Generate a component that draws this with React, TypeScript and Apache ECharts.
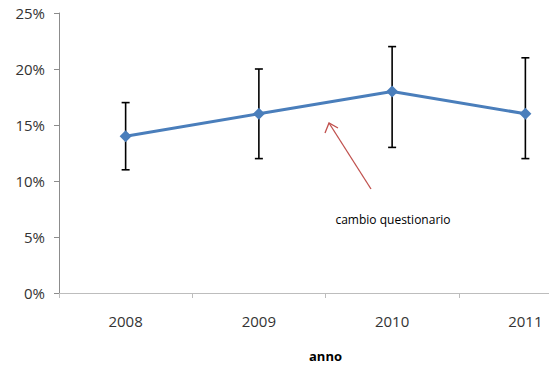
import React, { useEffect, useRef } from "react";
import * as echarts from "echarts";

const years = ["2008", "2009", "2010", "2011"];
const values = [14, 16, 18, 16];
const lowErr = [11, 12, 13, 12];
const highErr = [17, 20, 22, 21];
const yTicks = [0, 5, 10, 15, 20, 25];
const annotationText = "cambio questionario";
const axisTitle = "anno";

export default function App() {
  const ref = useRef<HTMLDivElement>(null);
  useEffect(() => {
    if (!ref.current) return;
    const chart = echarts.init(ref.current, undefined, { renderer: "svg" });
    const font = "'Open Sans', 'Liberation Sans', sans-serif";
    chart.setOption({
      animation: false,
      textStyle: { fontFamily: font },
      grid: { left: 59, top: 13, width: 533, height: 283, containLabel: false },
      xAxis: {
        type: "category",
        data: years,
        boundaryGap: true,
        axisLine: { lineStyle: { color: "#BDBDBD", width: 1 } },
        axisTick: { show: true, length: 5, inside: false, lineStyle: { color: "#BDBDBD" } },
        axisLabel: { color: "#333", fontSize: 15, margin: 20, fontFamily: font },
        name: axisTitle,
        nameLocation: "middle",
        nameGap: 56,
        nameTextStyle: { color: "#000", fontSize: 13, fontWeight: "bold", fontFamily: font },
        splitLine: { show: false },
      },
      yAxis: {
        type: "value",
        min: yTicks[0],
        max: yTicks[yTicks.length - 1],
        interval: 5,
        axisLine: { show: true, lineStyle: { color: "#8C8C8C", width: 1 } },
        axisTick: { show: true, length: 5, lineStyle: { color: "#8C8C8C" } },
        axisLabel: { color: "#333", fontSize: 15, margin: 14, formatter: (v: number) => v + "%", fontFamily: font },
        splitLine: { show: false },
      },
      series: [
        {
          type: "custom",
          data: years.map((_, i) => [i, lowErr[i], highErr[i]]),
          renderItem: (params: any, api: any) => {
            const x = api.value(0);
            const lo = api.coord([x, api.value(1)]);
            const hi = api.coord([x, api.value(2)]);
            const cap = 4;
            const style = { stroke: "#000", lineWidth: 1.6 };
            return {
              type: "group",
              children: [
                { type: "line", shape: { x1: lo[0], y1: lo[1], x2: hi[0], y2: hi[1] }, style },
                { type: "line", shape: { x1: lo[0] - cap, y1: lo[1], x2: lo[0] + cap, y2: lo[1] }, style },
                { type: "line", shape: { x1: hi[0] - cap, y1: hi[1], x2: hi[0] + cap, y2: hi[1] }, style },
              ],
            };
          },
          z: 1,
        },
        {
          type: "line",
          data: values,
          symbol: "diamond",
          symbolSize: 12,
          lineStyle: { color: "#4A7EBB", width: 3 },
          itemStyle: { color: "#4A7EBB" },
          z: 2,
        },
      ],
      graphic: [
        {
          type: "line",
          shape: { x1: 371, y1: 189, x2: 329, y2: 123 },
          style: { stroke: "#C0504D", lineWidth: 1.3 },
        },
        {
          type: "polyline",
          shape: { points: [[325, 133], [329, 123], [338, 128]] },
          style: { stroke: "#C0504D", lineWidth: 1.3, fill: "none" },
        },
        {
          type: "text",
          x: 393,
          y: 219,
          style: {
            text: annotationText,
            fill: "#000",
            fontSize: 12,
            fontWeight: 500,
            fontFamily: font,
            align: "center",
            verticalAlign: "middle",
          },
        },
      ],
    });
    return () => chart.dispose();
  }, []);
  return (
    <div style={{ position: "fixed", left: 0, top: 0, width: 549, height: 367, overflow: "hidden", background: "#fff" }}>
      <div ref={ref} style={{ width: 620, height: 367 }} />
    </div>
  );
}
